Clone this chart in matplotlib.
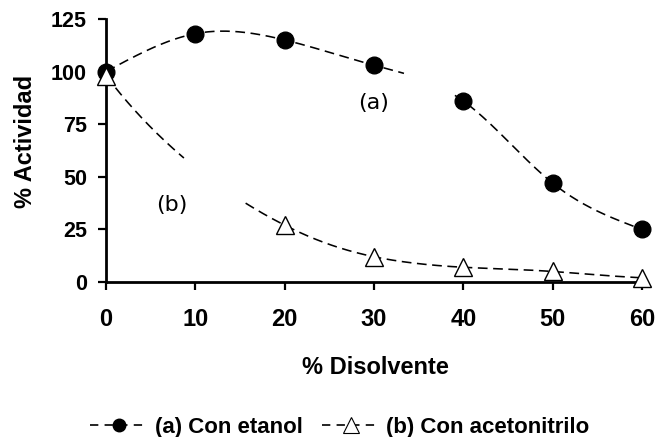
import numpy as np
import matplotlib
matplotlib.use("Agg")
import matplotlib.pyplot as plt

plt.rcParams['font.family'] = ['Liberation Sans', 'DejaVu Sans']
plt.rcParams['font.weight'] = 'bold'
plt.rcParams['lines.scale_dashes'] = False

# Measured activity vs. solvent content
disolvente_etanol = [0, 10, 20, 30, 40, 50, 60]
actividad_etanol = [100, 118, 115, 103, 86, 47, 25]
disolvente_acetonitrilo = [0, 20, 30, 40, 50, 60]
actividad_acetonitrilo = [98, 27, 12, 7, 5, 2]

x_ticks = [0, 10, 20, 30, 40, 50, 60]
y_ticks = [0, 25, 50, 75, 100, 125]

# Ranges where the trend lines are interrupted to leave room for the labels
gap_etanol = (33.4, 39.0)
gap_acetonitrilo = (8.8, 15.6)


def natural_spline(x, y, xs):
    x = np.asarray(x, float)
    y = np.asarray(y, float)
    n = len(x)
    h = np.diff(x)
    A = np.zeros((n, n))
    b = np.zeros(n)
    A[0, 0] = A[-1, -1] = 1.0
    for i in range(1, n - 1):
        A[i, i - 1] = h[i - 1]
        A[i, i] = 2 * (h[i - 1] + h[i])
        A[i, i + 1] = h[i]
        b[i] = 6 * ((y[i + 1] - y[i]) / h[i] - (y[i] - y[i - 1]) / h[i - 1])
    M = np.linalg.solve(A, b)
    idx = np.clip(np.searchsorted(x, xs) - 1, 0, n - 2)
    x0, x1 = x[idx], x[idx + 1]
    hh = x1 - x0
    t0, t1 = x1 - xs, xs - x0
    return (M[idx] * t0**3 / (6 * hh) + M[idx + 1] * t1**3 / (6 * hh)
            + (y[idx] / hh - M[idx] * hh / 6) * t0
            + (y[idx + 1] / hh - M[idx + 1] * hh / 6) * t1)


xs = np.linspace(0, 60, 600)
trend_a = natural_spline(disolvente_etanol, actividad_etanol, xs)
trend_b = np.exp(natural_spline(disolvente_acetonitrilo,
                                np.log(actividad_acetonitrilo), xs))
trend_a[(xs > gap_etanol[0]) & (xs < gap_etanol[1])] = np.nan
trend_b[(xs > gap_acetonitrilo[0]) & (xs < gap_acetonitrilo[1])] = np.nan

fig = plt.figure(figsize=(6.59, 4.37), dpi=100)
ax = fig.add_axes([0.161, 0.3547, 0.813, 0.602])

dash = (0, (7.0, 4.0))
ax.plot(xs, trend_a, color='black', lw=1.15, linestyle=dash)
ax.plot(xs, trend_b, color='black', lw=1.15, linestyle=dash)
ax.plot(disolvente_etanol, actividad_etanol, 'o', color='black',
        markersize=12, clip_on=False, zorder=3)
ax.plot(disolvente_acetonitrilo, actividad_acetonitrilo, '^', color='black',
        markerfacecolor='white', markeredgewidth=1.0, markersize=12.5,
        clip_on=False, zorder=3)

# Legend proxies
leg_dash = (0, (6.0, 4.5))
h_a, = ax.plot([], [], color='black', lw=1.2, linestyle=leg_dash,
               marker='o', markersize=9)
h_b, = ax.plot([], [], color='black', lw=1.2, linestyle=leg_dash,
               marker='^', markersize=11, markerfacecolor='white',
               markeredgewidth=0.8)

ax.text(29.9, 85.1, '(a)', fontsize=16, fontweight='normal',
        family='DejaVu Sans', ha='center', va='center')
ax.text(7.4, 36.6, '(b)', fontsize=16, fontweight='normal',
        family='DejaVu Sans', ha='center', va='center')

ax.set_xlim(0, 60)
ax.set_ylim(0, 125)
ax.set_xticks(x_ticks)
ax.set_yticks(y_ticks)
ax.tick_params(axis='both', direction='out', width=1.6, length=5.8)
ax.tick_params(axis='x', labelsize=17, pad=13)
ax.tick_params(axis='y', labelsize=15.5, pad=8)
for side in ('top', 'right'):
    ax.spines[side].set_visible(False)
for side in ('left', 'bottom'):
    ax.spines[side].set_linewidth(2.0)

fig.text(26 / 659, 1 - 141.5 / 437, '% Actividad', fontsize=17,
         fontweight='bold', rotation=90, ha='center', va='center')
fig.text(375 / 659, 1 - 368 / 437, '% Disolvente', fontsize=17,
         fontweight='bold', ha='center', va='center')

fig.legend([h_a, h_b], ['(a) Con etanol', '(b) Con acetonitrilo'],
           loc='center', bbox_to_anchor=(340 / 659, 1 - 427 / 437), ncol=2,
           frameon=False, handlelength=2.6, columnspacing=0.86,
           handletextpad=0.3, borderpad=0, borderaxespad=0,
           prop={'weight': 'bold', 'size': 16})

fig.savefig('out.png', dpi=100)
